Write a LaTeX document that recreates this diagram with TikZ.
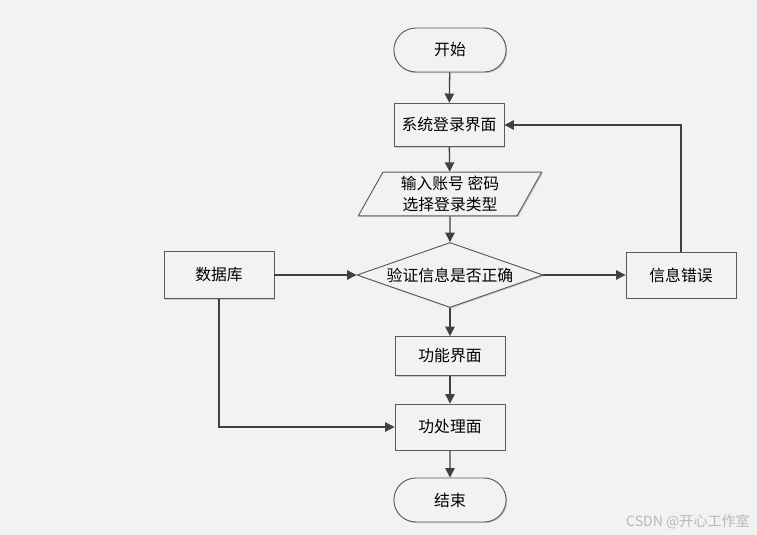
\documentclass[tikz,border=0pt]{standalone}
\usepackage{fontspec}
\setmainfont{Noto Sans CJK SC}
\usetikzlibrary{arrows.meta,shapes.geometric,shapes.misc,shadows}
\definecolor{bg}{HTML}{F2F2F2}
\definecolor{edge}{HTML}{404040}
\definecolor{rim}{HTML}{5A5A5A}

\tikzset{
  shape base/.style={draw=rim, fill=bg, line width=0.8pt, font=\fontsize{13.5pt}{18pt}\selectfont,
    drop shadow={shadow xshift=1pt, shadow yshift=-1pt, fill=black!30, opacity=0.6}},
  procbox/.style={shape base, rectangle, minimum width=3.3cm, minimum height=1.3cm},
  termbox/.style={shape base, rounded rectangle, minimum width=3.6cm, minimum height=1.32cm},
  iobox/.style={shape base, trapezium, trapezium left angle=66, trapezium right angle=114,
    trapezium stretches=true, minimum width=5.5cm, minimum height=1.23cm, align=center},
  testbox/.style={shape base, diamond, aspect=2.86, minimum width=5.58cm, minimum height=1.95cm, inner sep=0pt},
  flow/.style={draw=edge, line width=1.1pt, -{Triangle[length=2.8mm, width=2.8mm]}},
}

\begin{document}
\begin{tikzpicture}[x=0.03cm, y=-0.03cm]
    \fill[bg] (0,0) rectangle (757,535);
    \useasboundingbox (0,0) rectangle (757,535);
    % main column
    \node[termbox] at(450,50)(start){开始};
    \node[procbox] at(449,125)(login){系统登录界面};
    \node[iobox] at(450,194)(input){输入账号 密码\\选择登录类型};
    \node[testbox] at(450,275)(check){验证信息是否正确};
    \node[procbox, minimum height=1.17cm] at(450,356)(func){功能界面};
    \node[procbox, minimum height=1.38cm] at(450,427)(proc){功处理面};
    \node[termbox] at(450,500)(stop){结束};
    % side boxes
    \node[procbox, minimum height=1.41cm] at(219,275)(db){数据库};
    \node[procbox, minimum height=1.38cm] at(681,275)(err){信息错误};
    %
    \draw[flow] (start) -- (login);
    \draw[flow] (login) -- (input);
    \draw[flow] (input) -- (check);
    \draw[flow] (check) -- (func);
    \draw[flow] (func) -- (proc);
    \draw[flow] (proc) -- (stop);
    \draw[flow] (db) -- (check);
    \draw[flow] (check) -- (err);
    \draw[flow] (err.north) |- (login.east);
    \draw[flow] (db.south) |- (proc.west);
    % watermark
    \node[text=black!28, font=\fontsize{12pt}{14pt}\selectfont] at(688,522)(mark){CSDN @开心工作室};
\end{tikzpicture}
\end{document}
